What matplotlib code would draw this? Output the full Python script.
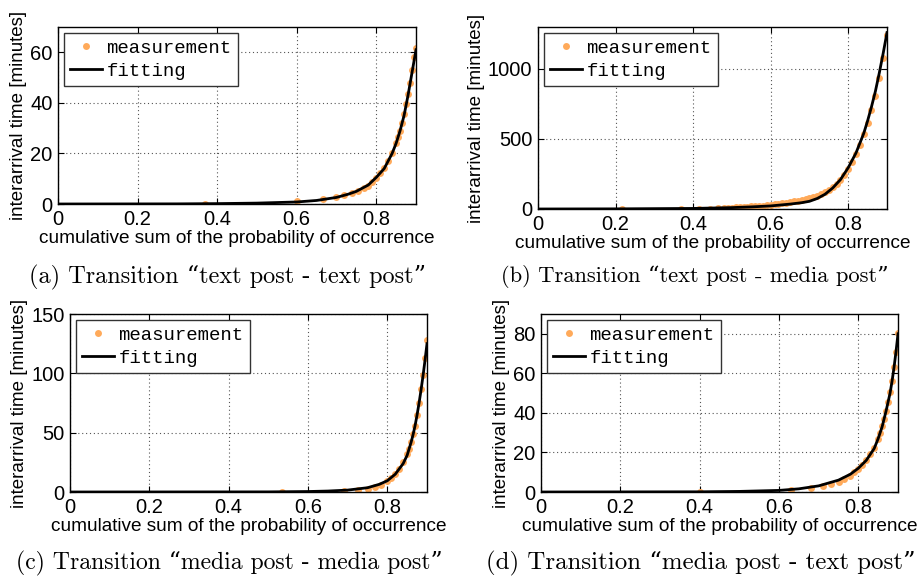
import matplotlib
matplotlib.use('Agg')
import matplotlib.pyplot as plt

meas_a_x = [0.37, 0.60, 0.665, 0.70, 0.72, 0.74, 0.755, 0.77, 0.78, 0.79, 0.80, 0.81, 0.82, 0.83,
            0.84, 0.85, 0.855, 0.86, 0.865, 0.87, 0.875, 0.88, 0.885, 0.89, 0.895, 0.90]
meas_a_y = [0.0, 1.0, 1.8, 2.6, 3.4, 4.3, 5.1, 6.2, 7.2, 8.6, 10.4, 12.2, 14.3, 17.0,
            20.0, 24.0, 26.5, 29.0, 32.0, 35.5, 39.5, 43.5, 48.0, 53.0, 58.0, 61.5]
fit_a_x = [0.0, 0.3, 0.4, 0.5, 0.6, 0.65, 0.7, 0.73, 0.75, 0.78, 0.8, 0.82, 0.84, 0.85, 0.86,
           0.87, 0.875, 0.88, 0.885, 0.89, 0.895, 0.9]
fit_a_y = [0.0, 0.05, 0.15, 0.35, 0.8, 1.4, 2.6, 3.9, 5.0, 7.5, 10.5, 14.0, 20.0, 24.0, 29.0,
           35.0, 39.0, 43.0, 47.5, 52.0, 56.5, 61.0]

meas_b_x = [0.217, 0.369, 0.416, 0.444, 0.463, 0.479, 0.489, 0.50, 0.51, 0.52, 0.53, 0.54, 0.55, 0.56,
            0.57, 0.58, 0.59, 0.60, 0.61, 0.62, 0.63, 0.64, 0.65, 0.66, 0.67, 0.68, 0.69, 0.70,
            0.71, 0.72, 0.73, 0.74, 0.75, 0.76, 0.77, 0.78, 0.79, 0.80, 0.81, 0.82, 0.83, 0.84,
            0.85, 0.86, 0.87, 0.88, 0.89, 0.90]
meas_b_y = [0, 1, 2, 3, 4, 5, 6, 10, 11, 12.5, 14, 16, 18, 20,
            22.5, 25, 28, 31, 34, 37.5, 41, 45, 49, 54, 59, 64, 70, 77,
            86, 96, 108, 122, 138, 157, 180, 207, 240, 285, 335, 395, 460, 535,
            615, 705, 810, 935, 1080, 1240]
fit_b_x = [0.0, 0.2, 0.4, 0.5, 0.55, 0.6, 0.65, 0.68, 0.7, 0.72, 0.74, 0.76, 0.78, 0.8, 0.82,
           0.84, 0.85, 0.86, 0.87, 0.88, 0.89, 0.9]
fit_b_y = [0, 1, 4, 10, 15, 22, 35, 45, 55, 75, 105, 150, 210, 295, 400,
           540, 630, 730, 840, 970, 1110, 1260]

meas_c_x = [0.535, 0.69, 0.725, 0.75, 0.77, 0.785, 0.80, 0.81, 0.82, 0.83, 0.84, 0.85, 0.855, 0.86,
            0.865, 0.87, 0.875, 0.88, 0.885, 0.89, 0.895, 0.90]
meas_c_y = [0.0, 1.0, 1.5, 2.5, 4.0, 5.5, 9.0, 12.0, 15.5, 19.5, 25.0, 32.0, 36.0, 42.0,
            49.0, 56.0, 65.0, 75.0, 87.0, 99.0, 113.0, 128.0]
fit_c_x = [0.0, 0.5, 0.6, 0.65, 0.7, 0.75, 0.78, 0.8, 0.82, 0.84, 0.85, 0.86, 0.865, 0.87,
           0.875, 0.88, 0.885, 0.89, 0.895, 0.9]
fit_c_y = [0.0, 0.1, 0.4, 0.8, 1.6, 3.6, 6.5, 9.5, 15.0, 24.0, 31.0, 42.0, 48.5, 56.0,
           65.0, 75.0, 86.0, 98.0, 111.0, 125.0]

meas_d_x = [0.40, 0.63, 0.68, 0.71, 0.73, 0.75, 0.765, 0.78, 0.79, 0.80, 0.81, 0.82, 0.83, 0.84,
            0.85, 0.855, 0.86, 0.865, 0.87, 0.875, 0.88, 0.885, 0.89, 0.895, 0.90]
meas_d_y = [0.0, 1.0, 2.0, 3.0, 3.8, 5.0, 6.5, 8.0, 10.0, 11.8, 13.5, 16.0, 19.0, 22.5,
            27.0, 30.0, 33.5, 37.0, 41.0, 45.5, 50.5, 56.0, 63.0, 71.0, 80.5]
fit_d_x = [0.0, 0.4, 0.5, 0.6, 0.65, 0.7, 0.75, 0.78, 0.8, 0.82, 0.84, 0.85, 0.86, 0.865,
           0.87, 0.875, 0.88, 0.885, 0.89, 0.895, 0.9]
fit_d_y = [0.0, 0.1, 0.3, 0.8, 1.6, 3.1, 6.0, 9.0, 12.0, 16.0, 22.0, 27.0, 33.0, 37.0,
           41.0, 45.5, 50.0, 56.0, 63.0, 71.0, 80.0]

captions = ['(a) Transition \u201ctext post - text post\u201d',
            '(b) Transition \u201ctext post - media post\u201d',
            '(c) Transition \u201cmedia post - media post\u201d',
            '(d) Transition \u201cmedia post - text post\u201d']
y_limits = [70, 1300, 150, 90]
y_ticks = [[0, 20, 40, 60], [0, 500, 1000], [0, 50, 100, 150], [0, 20, 40, 60, 80]]
x_ticks = [0, 0.2, 0.4, 0.6, 0.8]
x_tick_labels = ['0', '0.2', '0.4', '0.6', '0.8']

W, H = 922, 578
# axes boxes in pixels: left, top, right, bottom
boxes = [(58, 27, 416, 204), (538, 27, 887, 209), (70, 314, 427, 492), (541, 314, 898, 492)]
caption_pos = [(228, 277), (695, 277), (229, 563), (701, 563)]
caption_size = [17.5, 16.2, 17.1, 17.9]

plt.rcParams['font.family'] = ['Liberation Sans', 'DejaVu Sans']
fig = plt.figure(figsize=(W / 100, H / 100), dpi=100)

meas_color = '#ffaa5a'
data = [(meas_a_x, meas_a_y, fit_a_x, fit_a_y), (meas_b_x, meas_b_y, fit_b_x, fit_b_y),
        (meas_c_x, meas_c_y, fit_c_x, fit_c_y), (meas_d_x, meas_d_y, fit_d_x, fit_d_y)]

for i, (mx, my, fx, fy) in enumerate(data):
    l, t, r, b = boxes[i]
    ax = fig.add_axes([l / W, 1 - b / H, (r - l) / W, (b - t) / H])
    ax.plot(mx, my, 'o', color=meas_color, markersize=5, markeredgewidth=0, label='measurement')
    ax.plot(fx, fy, '-', color='black', linewidth=2, label='fitting')
    ax.set_xlim(0, 0.9)
    ax.set_ylim(0, y_limits[i])
    ax.set_xticks(x_ticks)
    ax.set_xticklabels(x_tick_labels)
    ax.set_yticks(y_ticks[i])
    ax.tick_params(direction='in', top=True, right=True, labelsize=14.5, length=4, pad=4)
    ax.grid(True, linestyle=(0, (1, 2.5)), color='#555555', linewidth=0.8)
    for s in ax.spines.values():
        s.set_linewidth(1.0)
    ax.set_xlabel('cumulative sum of the probability of occurrence', fontsize=13.7, labelpad=1)
    ax.set_ylabel('interarrival time [minutes]', fontsize=13.5, labelpad=2)
    leg = ax.legend(loc='upper left', prop={'family': 'Liberation Mono', 'size': 13.7},
                    fancybox=False, framealpha=1, edgecolor='#333333', borderpad=0.35,
                    handlelength=1.65, handletextpad=0.25, borderaxespad=0.3, labelspacing=0.3)
    leg.get_frame().set_linewidth(1.0)
    cx, cy = caption_pos[i]
    fig.text(cx / W, 1 - cy / H, captions[i], ha='center', va='center', fontsize=caption_size[i],
             family=['cmr10', 'DejaVu Serif'])

fig.savefig('out.png', dpi=100)
